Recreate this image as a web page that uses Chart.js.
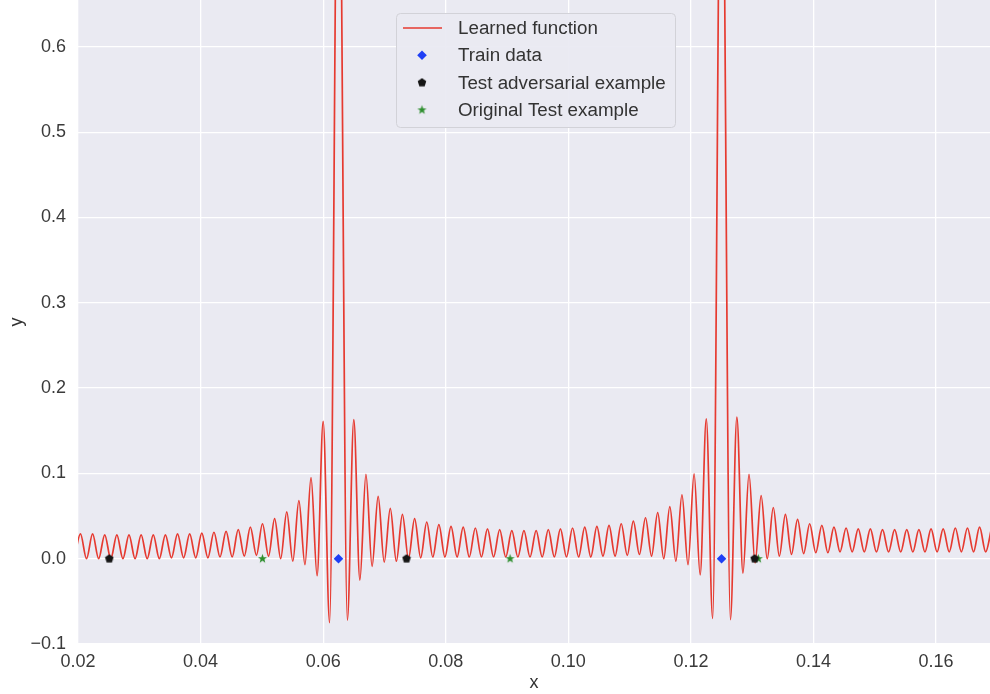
<!DOCTYPE html>
<html>
<head>
<meta charset="utf-8">
<title>Learned function</title>
<script src="https://cdn.jsdelivr.net/npm/chart.js@4.4.1/dist/chart.umd.min.js"></script>
<style>
  body { margin: 0; background: #fff; }
  #wrap { width: 990px; height: 694px; }
</style>
</head>
<body>
<div id="wrap"><canvas id="fnChart" width="990" height="694"></canvas></div>
<script>
// learned function: its peaks and troughs, left to right
const curveX = [
  0.01941, 0.02040, 0.02139, 0.02238, 0.02337, 0.02436, 0.02535, 0.02634, 0.02733, 0.02832,
  0.02931, 0.03030, 0.03129, 0.03228, 0.03327, 0.03426, 0.03525, 0.03624, 0.03723, 0.03822,
  0.03921, 0.04020, 0.04119, 0.04218, 0.04317, 0.04416, 0.04515, 0.04614, 0.04713, 0.04812,
  0.04911, 0.05010, 0.05109, 0.05208, 0.05307, 0.05406, 0.05505, 0.05604, 0.05703, 0.05802,
  0.05901, 0.06000, 0.06105, 0.06250, 0.06395,
  0.06500, 0.06599, 0.06698, 0.06798, 0.06897, 0.06996, 0.07095, 0.07194, 0.07293, 0.07392,
  0.07492, 0.07591, 0.07690, 0.07789, 0.07888, 0.07987, 0.08086, 0.08185, 0.08285, 0.08384,
  0.08483, 0.08582, 0.08681, 0.08780, 0.08880, 0.08979, 0.09078, 0.09177, 0.09276, 0.09375,
  0.09475, 0.09574, 0.09673, 0.09772, 0.09871, 0.09970, 0.10069, 0.10168, 0.10268, 0.10367,
  0.10466, 0.10565, 0.10664, 0.10763, 0.10863, 0.10962, 0.11061, 0.11160, 0.11259, 0.11358,
  0.11458, 0.11557, 0.11656, 0.11755, 0.11854, 0.11953, 0.12052, 0.12151, 0.12251,
  0.12355, 0.12500, 0.12645,
  0.12750, 0.12849, 0.12948, 0.13047, 0.13146, 0.13245, 0.13344, 0.13443, 0.13542, 0.13641,
  0.13740, 0.13839, 0.13938, 0.14037, 0.14136, 0.14235, 0.14334, 0.14433, 0.14532, 0.14631,
  0.14730, 0.14829, 0.14928, 0.15027, 0.15126, 0.15225, 0.15324, 0.15423, 0.15522, 0.15621,
  0.15720, 0.15819, 0.15918, 0.16017, 0.16116, 0.16215, 0.16314, 0.16413, 0.16512, 0.16611,
  0.16710, 0.16809, 0.16908
];
const curveY = [
  0.000, 0.029, 0.000, 0.029, 0.000, 0.028, 0.000, 0.028, 0.000, 0.028,
  0.000, 0.028, 0.000, 0.028, 0.000, 0.028, 0.001, 0.029, 0.001, 0.029,
  0.001, 0.030, 0.001, 0.031, 0.002, 0.032, 0.002, 0.034, 0.003, 0.037,
  0.004, 0.041, 0.003, 0.047, 0.000, 0.055, -0.003, 0.068, -0.007, 0.095,
  -0.020, 0.161, -0.075, 0.960, -0.072,
  0.163, -0.025, 0.099, -0.009, 0.073, -0.004, 0.059, -0.003, 0.052, 0.000,
  0.047, 0.001, 0.043, 0.002, 0.040, 0.002, 0.038, 0.002, 0.037, 0.002,
  0.036, 0.002, 0.035, 0.002, 0.034, 0.002, 0.033, 0.002, 0.033, 0.002,
  0.033, 0.002, 0.034, 0.002, 0.035, 0.002, 0.036, 0.002, 0.037, 0.002,
  0.038, 0.003, 0.039, 0.003, 0.041, 0.004, 0.044, 0.005, 0.048, 0.003,
  0.054, 0.000, 0.061, -0.003, 0.075, -0.007, 0.0996, -0.019, 0.164,
  -0.070, 0.960, -0.0715,
  0.166, -0.017, 0.099, -0.005, 0.074, 0.000, 0.060, 0.003, 0.052, 0.005,
  0.046, 0.006, 0.041, 0.007, 0.039, 0.007, 0.037, 0.008, 0.036, 0.008,
  0.035, 0.008, 0.035, 0.008, 0.034, 0.008, 0.034, 0.008, 0.034, 0.008,
  0.034, 0.008, 0.035, 0.008, 0.035, 0.008, 0.036, 0.008, 0.036, 0.008,
  0.037, 0.008, 0.037
];

const trainX = [0.0625, 0.125];
const trainY = [0, 0];
const advX = [0.0251, 0.0736, 0.1304];
const advY = [0, 0, 0];
const origX = [0.0501, 0.0905, 0.1310];
const origY = [0, 0, 0];

const xTicks = [0.02, 0.04, 0.06, 0.08, 0.10, 0.12, 0.14, 0.16];
const yTicks = [-0.1, 0.0, 0.1, 0.2, 0.3, 0.4, 0.5, 0.6];

const FONT = '"Liberation Sans", Arial, sans-serif';
const TEXT = '#3a3a3a';
const RED = '#e63a30';
const BLUE = '#1f3ff5';
const BLACK = '#151515';
const GREEN = '#2f8f2f';

function toPoints(xs, ys) {
  return xs.map((x, i) => ({ x: x, y: ys[i] }));
}

// small canvases used as marker images
function markerCanvas(size, draw) {
  const c = document.createElement('canvas');
  c.width = size;
  c.height = size;
  const g = c.getContext('2d');
  g.translate(size / 2, size / 2);
  draw(g);
  return c;
}

const pentagon = markerCanvas(10, g => {
  g.beginPath();
  for (let i = 0; i < 5; i++) {
    const a = -Math.PI / 2 + i * 2 * Math.PI / 5;
    g.lineTo(4.5 * Math.cos(a), 4.5 * Math.sin(a));
  }
  g.closePath();
  g.fillStyle = BLACK;
  g.fill();
});

const star = markerCanvas(11, g => {
  g.beginPath();
  for (let i = 0; i < 10; i++) {
    const a = -Math.PI / 2 + i * Math.PI / 5;
    const r = i % 2 ? 2.0 : 4.8;
    g.lineTo(r * Math.cos(a), r * Math.sin(a));
  }
  g.closePath();
  g.fillStyle = GREEN;
  g.fill();
});

const plotBackground = {
  id: 'plotBackground',
  beforeDraw(chart) {
    const { ctx, chartArea: a } = chart;
    ctx.save();
    ctx.fillStyle = '#eaeaf2';
    ctx.fillRect(a.left, a.top, a.right - a.left, a.bottom - a.top);
    ctx.restore();
  }
};

// legend box drawn inside the plot, top centre
const legendBox = {
  id: 'legendBox',
  afterDraw(chart) {
    const ctx = chart.ctx;
    const x0 = 396.5, y0 = 13.5, w = 279, h = 114, r = 4;
    ctx.save();
    ctx.beginPath();
    ctx.moveTo(x0 + r, y0);
    ctx.arcTo(x0 + w, y0, x0 + w, y0 + h, r);
    ctx.arcTo(x0 + w, y0 + h, x0, y0 + h, r);
    ctx.arcTo(x0, y0 + h, x0, y0, r);
    ctx.arcTo(x0, y0, x0 + w, y0, r);
    ctx.closePath();
    ctx.fillStyle = 'rgba(234, 234, 242, 0.93)';
    ctx.fill();
    ctx.strokeStyle = '#d2d2d8';
    ctx.lineWidth = 1;
    ctx.stroke();

    const mx = 422;
    const rows = chart.data.datasets.map((ds, i) => ({ label: ds.label, y: 28 + i * 27.3 }));

    // line sample
    ctx.strokeStyle = RED;
    ctx.lineWidth = 1.7;
    ctx.beginPath();
    ctx.moveTo(403, rows[0].y);
    ctx.lineTo(442, rows[0].y);
    ctx.stroke();

    // diamond
    const dy = rows[1].y;
    ctx.fillStyle = BLUE;
    ctx.beginPath();
    ctx.moveTo(mx, dy - 4.8);
    ctx.lineTo(mx + 4.8, dy);
    ctx.lineTo(mx, dy + 4.8);
    ctx.lineTo(mx - 4.8, dy);
    ctx.closePath();
    ctx.fill();

    ctx.drawImage(pentagon, mx - pentagon.width / 2, rows[2].y - pentagon.height / 2);
    ctx.drawImage(star, mx - star.width / 2, rows[3].y - star.height / 2);

    ctx.fillStyle = '#333333';
    ctx.font = '18.8px ' + FONT;
    ctx.textAlign = 'left';
    ctx.textBaseline = 'middle';
    rows.forEach(row => ctx.fillText(row.label, 458, row.y + 1));
    ctx.restore();
  }
};

const tickFont = { family: FONT, size: 18 };

new Chart(document.getElementById('fnChart'), {
  type: 'scatter',
  data: {
    datasets: [
      {
        type: 'line',
        label: 'Learned function',
        data: toPoints(curveX, curveY),
        borderColor: RED,
        borderWidth: 1.7,
        pointRadius: 0,
        fill: false,
        cubicInterpolationMode: 'monotone',
        capBezierPoints: false,
        order: 2
      },
      {
        label: 'Train data',
        data: toPoints(trainX, trainY),
        pointStyle: 'rectRot',
        pointRadius: 4.8,
        backgroundColor: BLUE,
        borderWidth: 0,
        order: 1
      },
      {
        label: 'Test adversarial example',
        data: toPoints(advX, advY),
        pointStyle: pentagon,
        order: 1
      },
      {
        label: 'Original Test example',
        data: toPoints(origX, origY),
        pointStyle: star,
        order: 1
      }
    ]
  },
  options: {
    responsive: false,
    animation: false,
    devicePixelRatio: 1,
    layout: { padding: 0, autoPadding: false },
    plugins: {
      legend: { display: false },
      tooltip: { enabled: false }
    },
    scales: {
      x: {
        type: 'linear',
        min: 0.02,
        max: 0.1688,
        afterBuildTicks: s => { s.ticks = xTicks.map(v => ({ value: v })); },
        afterFit: s => { s.height = 50; s.paddingLeft = 0; s.paddingRight = 0; },
        grid: { color: '#ffffff', lineWidth: 1.3, drawTicks: false },
        border: { display: false },
        ticks: {
          padding: 7,
          color: TEXT,
          font: tickFont,
          maxRotation: 0,
          callback: v => v.toFixed(2)
        },
        title: {
          display: true,
          text: 'x',
          color: '#333333',
          font: { family: FONT, size: 18 },
          padding: { top: 0, bottom: 0 }
        }
      },
      y: {
        type: 'linear',
        min: -0.1,
        max: 0.655,
        afterBuildTicks: s => { s.ticks = yTicks.map(v => ({ value: v })); },
        afterFit: s => { s.width = 78; s.paddingTop = 0; s.paddingBottom = 0; },
        grid: { color: '#ffffff', lineWidth: 1.3, drawTicks: false },
        border: { display: false },
        ticks: {
          padding: 12,
          color: TEXT,
          font: tickFont,
          callback: v => v.toFixed(1).replace('-', '\u2212')
        },
        title: {
          display: true,
          text: 'y',
          color: '#333333',
          font: { family: FONT, size: 18 },
          padding: { top: 6, bottom: 0 }
        }
      }
    }
  },
  plugins: [plotBackground, legendBox]
});
</script>
</body>
</html>
